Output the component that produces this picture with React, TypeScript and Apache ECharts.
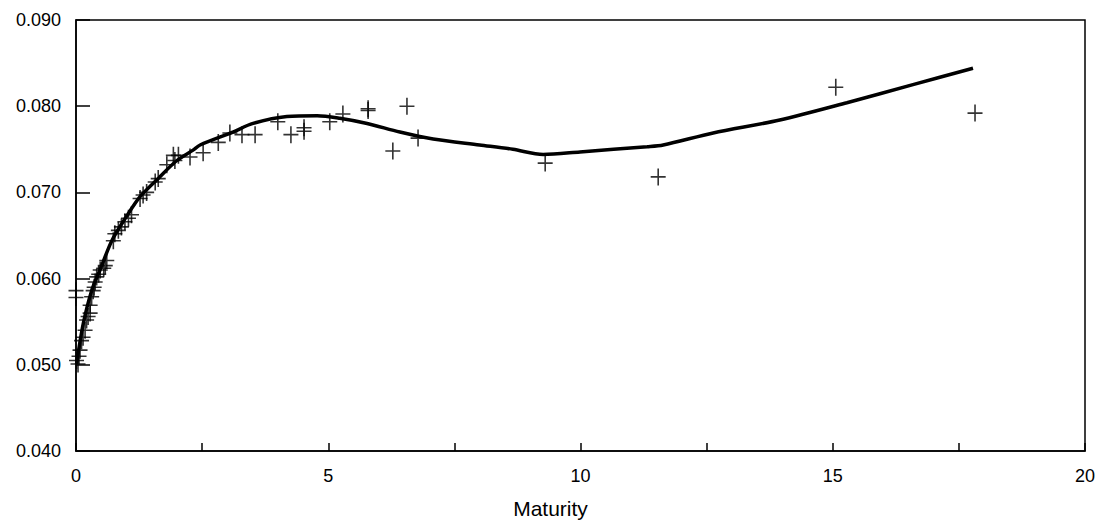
import React, { useEffect, useRef } from "react";
import * as echarts from "echarts";

const curveX = [0.01, 0.145, 0.31, 0.476, 0.71, 1.0, 1.27, 1.66, 2.0, 2.32, 2.46, 3.11, 3.51, 4.18, 4.78, 5.23, 5.77, 6.42, 7.08, 8.0, 8.66, 9.26, 9.99, 11.32, 11.64, 12.63, 13.95, 15.28, 16.59, 17.78];
const curveY = [0.0501, 0.0548, 0.0586, 0.0610, 0.0644, 0.0672, 0.0695, 0.0718, 0.0737, 0.0749, 0.0755, 0.0770, 0.0780, 0.0788, 0.0789, 0.0786, 0.0780, 0.0770, 0.0762, 0.0755, 0.0750, 0.0744, 0.0747, 0.0753, 0.0755, 0.0769, 0.0784, 0.0804, 0.0825, 0.0844];

const obsX = [0.0, 0.0, 0.01, 0.04, 0.06, 0.08, 0.11, 0.14, 0.18, 0.21, 0.24, 0.28, 0.28, 0.31, 0.34, 0.36, 0.38, 0.41, 0.45, 0.48, 0.55, 0.58, 0.61, 0.74, 0.77, 0.84, 0.9, 0.97, 1.04, 1.10, 1.27, 1.33, 1.40, 1.57, 1.63, 1.80, 1.93, 1.96, 2.03, 2.26, 2.52, 2.82, 3.05, 3.29, 3.55, 4.0, 4.26, 4.52, 4.52, 5.03, 5.29, 5.79, 5.79, 6.28, 6.56, 6.78, 9.30, 11.54, 15.06, 17.82];
const obsY = [0.0586, 0.0578, 0.0505, 0.0501, 0.0510, 0.0517, 0.0528, 0.0532, 0.0540, 0.0552, 0.0556, 0.0560, 0.0569, 0.0579, 0.0586, 0.0590, 0.0596, 0.0602, 0.0605, 0.0610, 0.0612, 0.0615, 0.0621, 0.0644, 0.0652, 0.0656, 0.0660, 0.0666, 0.0670, 0.0674, 0.0693, 0.0697, 0.0700, 0.0712, 0.0716, 0.0732, 0.0743, 0.0737, 0.0743, 0.0741, 0.0746, 0.0758, 0.0769, 0.0767, 0.0767, 0.0782, 0.0767, 0.0775, 0.0771, 0.0782, 0.0791, 0.0797, 0.0795, 0.0748, 0.0800, 0.0763, 0.0734, 0.0718, 0.0822, 0.0792];

const xTicks = [0, 5, 10, 15, 20];

const PLUS = "path://M-7,-0.75L-0.75,-0.75L-0.75,-8L0.75,-8L0.75,-0.75L7,-0.75L7,0.75L0.75,0.75L0.75,8L-0.75,8L-0.75,0.75L-7,0.75Z";

export default function App() {
  const ref = useRef<HTMLDivElement>(null);
  useEffect(() => {
    document.body.style.margin = "0";
    const chart = echarts.init(ref.current!, null, { renderer: "svg" });
    const font = "'Liberation Sans', Arial, sans-serif";
    chart.setOption({
      animation: false,
      backgroundColor: "#fff",
      grid: {
        left: 76,
        top: 20,
        right: 18,
        bottom: 73,
        show: true,
        borderColor: "#000",
        borderWidth: 1.5,
        backgroundColor: "transparent",
      },
      xAxis: {
        type: "value",
        min: 0,
        max: 20,
        interval: 2.5,
        name: "Maturity",
        nameLocation: "middle",
        nameGap: 47,
        nameTextStyle: { fontFamily: font, fontSize: 21, color: "#000", padding: [0, 60, 0, 0] },
        axisLine: { lineStyle: { color: "#000", width: 1.5 } },
        axisTick: { inside: true, length: 8, lineStyle: { color: "#000", width: 1.5 } },
        axisLabel: {
          margin: 16,
          fontFamily: font,
          fontSize: 18,
          color: "#000",
          formatter: (v: number) => (xTicks.includes(v) ? String(v) : ""),
        },
        splitLine: { show: false },
      },
      yAxis: {
        type: "value",
        min: 0.04,
        max: 0.09,
        interval: 0.01,
        axisLine: { lineStyle: { color: "#000", width: 1.5 } },
        axisTick: { inside: true, length: 14, lineStyle: { color: "#000", width: 1.5 } },
        axisLabel: {
          margin: 15,
          fontFamily: font,
          fontSize: 18,
          color: "#000",
          formatter: (v: number) => v.toFixed(3),
        },
        splitLine: { show: false },
      },
      series: [
        {
          type: "scatter",
          data: obsX.map((x, i) => [x, obsY[i]]),
          symbol: PLUS,
          symbolSize: [15, 17],
          itemStyle: { color: "#000" },
          z: 2,
        },
        {
          type: "line",
          data: curveX.map((x, i) => [x, curveY[i]]),
          showSymbol: false,
          smooth: 0.3,
          lineStyle: { color: "#000", width: 3.5 },
          z: 3,
        },
      ],
    });
    return () => chart.dispose();
  }, []);
  return <div ref={ref} style={{ width: 1103, height: 524 }} />;
}
